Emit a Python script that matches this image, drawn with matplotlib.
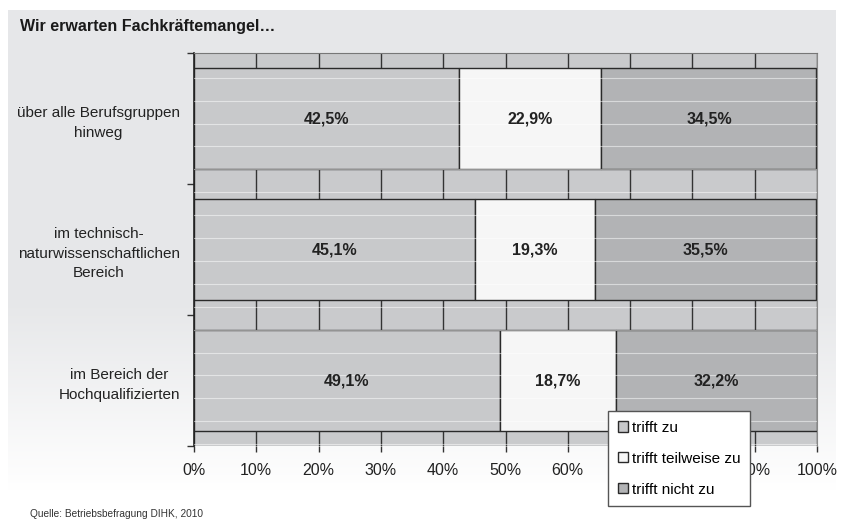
"""Wir erwarten Fachkraeftemangel - stacked horizontal bars"""
import numpy as np
import matplotlib.pyplot as plt

plt.rcParams['font.family'] = ['Liberation Sans', 'DejaVu Sans']

categories = ['über alle Berufsgruppen\nhinweg',
              'im technisch-\nnaturwissenschaftlichen\nBereich',
              'im Bereich der\nHochqualifizierten']
trifft_zu = [42.5, 45.1, 49.1]
teilweise = [22.9, 19.3, 18.7]
nicht_zu = [34.5, 35.5, 32.2]
series_names = ['trifft zu', 'trifft teilweise zu', 'trifft nicht zu']
xticks = [0, 10, 20, 30, 40, 50, 60, 70, 80, 90, 100]

colors = ['#c8c9cb', '#f6f6f6', '#b2b3b5']
W, H = 844, 521

fig = plt.figure(figsize=(W/100, H/100), dpi=100)

# background panel: gray fading to white at the bottom
bg = fig.add_axes([0, 0, 1, 1], zorder=-10)
yy = np.arange(H)
shade = np.where(yy < 300, 0.0, np.clip((yy - 300) / 190, 0, 1))
col = np.array([230, 231, 233]) / 255
img = np.ones((H, W, 3))
for c in range(3):
    img[:, :, c] = col[c] + (1 - col[c]) * shade[:, None]
img[:10, :, :] = 1
img[:, :8, :] = 1
img[:, 836:, :] = 1
bg.imshow(img, aspect='auto', extent=(0, 1, 0, 1))
bg.axis('off')

ax = fig.add_axes([194/W, (H-446)/H, 623/W, 393/H])
ax.set_facecolor('#c9cacc')

ypos = np.arange(len(categories))
left = np.zeros(len(categories))
bars = []
for vals, name, c in zip([trifft_zu, teilweise, nicht_zu], series_names, colors):
    b = ax.barh(ypos, vals, left=left, height=0.77, color=c,
                edgecolor='#2a2a2a', linewidth=1.0, label=name, zorder=2)
    bars.append(b)
    for y, l, v in zip(ypos, left, vals):
        ax.text(l + v/2, y, f'{v:.1f}%'.replace('.', ','), ha='center',
                va='center', fontsize=11.5, fontweight='bold',
                color='#222222', zorder=4)
    left = left + np.array(vals)

# faint white horizontal lines like in the original scan
for yl in np.arange(-0.311, 2.5, 0.1748):
    ax.axhline(yl, color='white', lw=0.8, alpha=0.5, zorder=3)

ax.set_xlim(0, 100)
ax.set_ylim(2.5, -0.5)
ax.set_xticks(xticks)
ax.set_xticklabels([f'{t}%' for t in xticks], fontsize=11.5, color='#222222')
ax.xaxis.grid(True, color='#333333', lw=1.0, zorder=1)
ax.set_axisbelow(True)
ax.tick_params(axis='x', length=4, width=1, color='#333333', pad=8)

ax.set_yticks(ypos)
ax.set_yticklabels(categories, fontsize=11, color='#222222',
                   multialignment='center', linespacing=1.5)
ax.set_yticks([-0.5, 0.5, 1.5, 2.5], minor=True)
ax.tick_params(axis='y', which='major', length=0, pad=10)
ax.tick_params(axis='y', which='minor', length=5, width=1, color='#333333')

ax.spines['left'].set_color('#222222')
ax.spines['left'].set_linewidth(1.2)
ax.spines['top'].set_color('#777777')
ax.spines['right'].set_color('#888888')
ax.spines['bottom'].set_visible(False)

fig.text(20/W, 1 - 27/H, 'Wir erwarten Fachkräftemangel…', fontsize=11.5,
         fontweight='bold', color='#1a1a1a', va='center')
fig.text(30/W, 1 - 514/H, 'Quelle: Betriebsbefragung DIHK, 2010',
         fontsize=7.3, color='#333333', va='center')

leg = fig.legend(handles=bars, loc='upper left',
                 bbox_to_anchor=(608/W, 1 - 411/H), borderaxespad=0,
                 fontsize=11, frameon=True, fancybox=False, framealpha=1,
                 edgecolor='#555555', facecolor='white', borderpad=0.65,
                 labelspacing=1.1, handlelength=0.65, handleheight=0.65,
                 handletextpad=0.25)
leg.get_frame().set_linewidth(1.0)

fig.savefig('out.png', dpi=100)
